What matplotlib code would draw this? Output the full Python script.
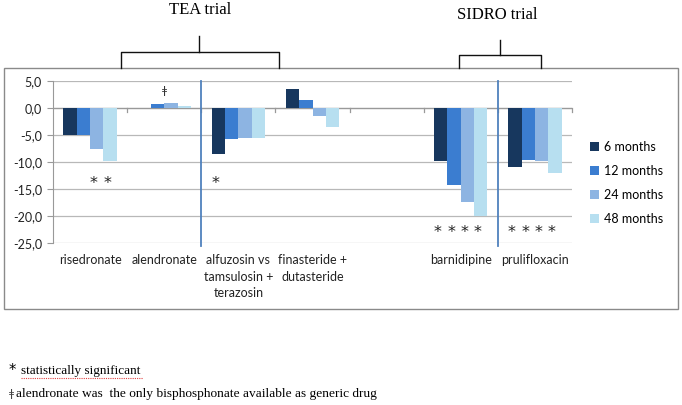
import matplotlib
matplotlib.use("Agg")
import matplotlib.pyplot as plt
import numpy as np
from matplotlib.patches import Rectangle
from matplotlib.lines import Line2D

categories = ["risedronate", "alendronate", "alfuzosin vs\ntamsulosin +\nterazosin",
              "finasteride +\ndutasteride", "", "barnidipine", "prulifloxacin"]
series_names = ["6 months", "12 months", "24 months", "48 months"]
m6 = [-5.0, 0.0, -8.5, 3.6, 0.0, -9.8, -11.0]
m12 = [-5.0, 0.75, -5.7, 1.4, 0.0, -14.2, -9.7]
m24 = [-7.6, 0.9, -5.5, -1.5, 0.0, -17.4, -9.8]
m48 = [-9.8, 0.35, -5.5, -3.6, 0.0, -20.0, -12.0]
yticks = [5, 0, -5, -10, -15, -20, -25]
ytick_labels = ["5,0", "0,0", "-5,0", "-10,0", "-15,0", "-20,0", "-25,0"]
# significance stars: (category index, series index, y)
stars = [(0, 2, -14.0), (0, 3, -14.0), (2, 0, -14.0),
         (5, 0, -23.0), (5, 1, -23.0), (5, 2, -23.0), (5, 3, -23.0),
         (6, 0, -23.0), (6, 1, -23.0), (6, 2, -23.0), (6, 3, -23.0)]
dagger = (1, 3.1)
separators = [2, 6]  # category boundaries with vertical lines
colors = ["#17375e", "#3b7dd0", "#8db4e2", "#b7dff0"]

W, H = 682, 405
fig = plt.figure(figsize=(W / 100, H / 100), dpi=100)

def fx(px):
    return px / W

def fy(py):
    return 1 - py / H

ax = fig.add_axes([fx(53), fy(243), fx(572) - fx(53), fy(81) - fy(243)])
n = len(categories)
x = np.arange(n)
bw = 0.18
allv = [m6, m12, m24, m48]
for i, vals in enumerate(allv):
    ax.bar(x + (i - 1.5) * bw, vals, width=bw, color=colors[i], label=series_names[i], zorder=3)

ax.set_xlim(-0.5, n - 0.5)
ax.set_ylim(-25, 5)
ax.set_yticks(yticks)
ax.set_yticklabels(ytick_labels, fontsize=9, fontfamily="Lato", color="#222222")
ax.yaxis.grid(True, color="#b8b8b8", lw=0.9, zorder=0)
ax.tick_params(axis="y", length=4, color="#999999", pad=4)
ax.set_xticks(x)
ax.set_xticklabels(categories, fontsize=9, fontfamily="Lato", color="#222222", linespacing=1.45)
ax.tick_params(axis="x", length=0, pad=8)
for s in ["top", "right", "bottom"]:
    ax.spines[s].set_visible(False)
ax.spines["left"].set_color("#999999")
# zero axis line with category ticks
ax.axhline(0, color="#999999", lw=0.9, zorder=2)
for b in np.arange(0.5, n - 0.5 + 1e-9, 1.0):
    ax.plot([b, b], [0, -0.75], color="#999999", lw=0.9, zorder=2, clip_on=False)
for s in separators:
    ax.axvline(s - 0.5, color="#4f81bd", lw=1.3, zorder=4, ymin=-0.02, ymax=1.0, clip_on=False)

for c, sidx, yv in stars:
    ax.text(c + (sidx - 1.5) * bw - 0.04, yv, "*", ha="center", va="center", fontsize=11.5,
            fontfamily="DejaVu Sans", color="#222222")
ax.text(dagger[0], dagger[1], "ǂ", ha="center", va="center", fontsize=8,
        fontfamily="DejaVu Sans", color="#333333")

leg = fig.legend(loc="upper left", bbox_to_anchor=(fx(590), fy(141)), frameon=False,
                 prop={"family": "Lato", "size": 9}, handlelength=0.75, handleheight=0.75,
                 handletextpad=0.35, labelspacing=0.95, borderaxespad=0, borderpad=0)

# outer chart box
fig.add_artist(Rectangle((fx(4), fy(309)), fx(678) - fx(4), fy(68) - fy(309),
                         transform=fig.transFigure, fill=False, edgecolor="#8a8a8a", lw=1.0))

# brackets
def bracket(x0, x1, ytop, ystem, xs):
    fig.add_artist(Line2D([fx(x0), fx(x0), fx(x1), fx(x1)], [fy(68), fy(ytop), fy(ytop), fy(68)],
                          transform=fig.transFigure, color="#111111", lw=1.0))
    fig.add_artist(Line2D([fx(xs), fx(xs)], [fy(ytop), fy(ystem)],
                          transform=fig.transFigure, color="#111111", lw=1.0))

bracket(121, 279, 52, 36, 199)
bracket(459, 541, 55, 40, 500)
fig.text(fx(200), fy(10), "TEA trial", ha="center", va="center", fontsize=12,
         fontfamily="Liberation Serif")
fig.text(fx(497), fy(15), "SIDRO trial", ha="center", va="center", fontsize=12,
         fontfamily="Liberation Serif")

# footnotes
fig.text(fx(9), fy(370), "*", ha="left", va="center", fontsize=10.5, fontfamily="DejaVu Sans")
t1 = fig.text(fx(21), fy(371), "statistically significant", ha="left", va="center", fontsize=9.5,
              fontfamily="Liberation Serif")
fig.add_artist(Line2D([fx(21), fx(143)], [fy(378), fy(378)], transform=fig.transFigure,
                      color="#e04040", lw=0.8, ls=(0, (1, 1))))
fig.text(fx(9), fy(394), "ǂ", ha="left", va="center", fontsize=8, fontfamily="DejaVu Sans",
         color="#444444")
fig.text(fx(16), fy(394), "alendronate was  the only bisphosphonate available as generic drug",
         ha="left", va="center", fontsize=9.6, fontfamily="Liberation Serif")

fig.savefig("out.png", dpi=100)
